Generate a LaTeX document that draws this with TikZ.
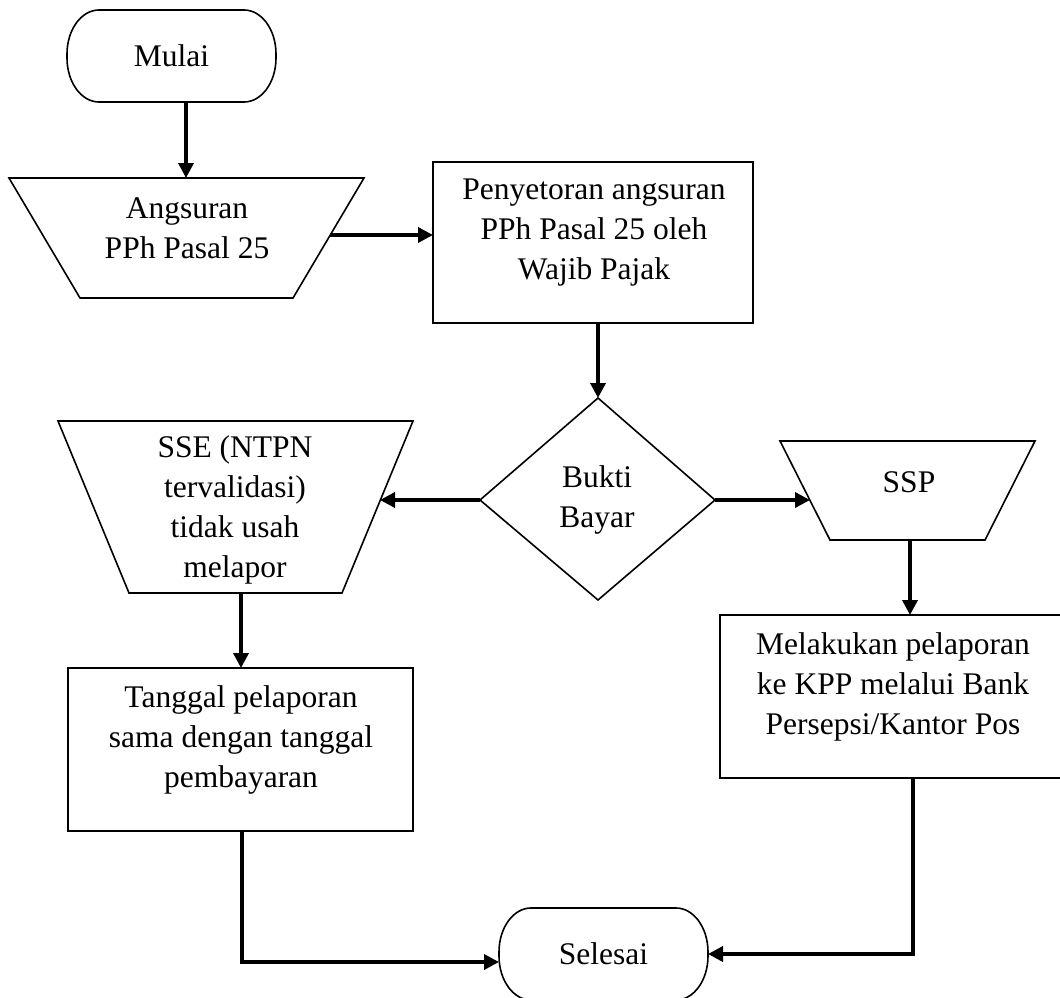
\documentclass[tikz,border=0pt]{standalone}
\usepackage{fontspec}
\setmainfont{Liberation Serif}
\usetikzlibrary{arrows.meta,calc}
\tikzset{
  shapeline/.style={line width=1.6pt, line join=miter},
  box/.style={draw, line width=1.6pt, inner sep=0pt, outer sep=0pt},
  termbox/.style={inner sep=0pt, outer sep=0pt, font=\fontsize{31.5}{40}\selectfont},
  lbl/.style={align=center, inner sep=0pt, font=\fontsize{31.5}{40}\selectfont},
  arr/.style={line width=3.5pt, line join=miter, -{Triangle[length=15pt,width=15pt]}}
}
\newcommand\termoutline[1]{%
  \draw[shapeline] ($(#1.north west)+(32,0)$) -- ($(#1.north east)+(-32,0)$)
   .. controls ($(#1.north east)+(-14.3,0)$) and ($(#1.north east)+(0,19.7)$) .. ($(#1.north east)+(0,44)$)
   -- ($(#1.south east)+(0,-44)$)
   .. controls ($(#1.south east)+(0,-19.7)$) and ($(#1.south east)+(-14.3,0)$) .. ($(#1.south east)+(-32,0)$)
   -- ($(#1.south west)+(32,0)$)
   .. controls ($(#1.south west)+(14.3,0)$) and ($(#1.south west)+(0,-19.7)$) .. ($(#1.south west)+(0,-44)$)
   -- ($(#1.north west)+(0,44)$)
   .. controls ($(#1.north west)+(0,19.7)$) and ($(#1.north west)+(14.3,0)$) .. cycle;}
\begin{document}
\begin{tikzpicture}[x=1pt,y=-1pt]
\useasboundingbox (0,0) rectangle (1060,998);
\fill[white] (0,0) rectangle (1060,998);

% Mulai
\node[termbox, minimum width=209pt, minimum height=92pt] (mulai) at (171.5,56) {Mulai};
\termoutline{mulai}

% Angsuran (manual input trapezoid)
\draw[shapeline] (9,178) -- (364,178) -- (293,298) -- (80,298) -- cycle;
\node[lbl] (angs) at (187,228) {Angsuran\\PPh Pasal 25};
\coordinate (angstop) at (186,178);
\coordinate (angsr) at (330,235);

% Penyetoran
\node[box, minimum width=320pt, minimum height=161pt] (setor) at (593,242.5) {};
\node[lbl] (setort) at (594,233) {Penyetoran angsuran\\PPh Pasal 25 oleh\\Wajib Pajak};

% Diamond
\coordinate (dtop) at (598,398);
\coordinate (dright) at (715,500);
\coordinate (dbot) at (598,600);
\coordinate (dleft) at (480,500);
\draw[shapeline] (dtop) -- (dright) -- (dbot) -- (dleft) -- cycle;
\node[lbl] (bukti) at (597,500) {Bukti\\Bayar};

% SSE trapezoid
\draw[shapeline] (58,421) -- (413,421) -- (342,593) -- (129,593) -- cycle;
\node[lbl] (sse) at (235,510) {SSE (NTPN\\tervalidasi)\\tidak usah\\melapor};
\coordinate (sser) at (380,500);
\coordinate (sseb) at (241,593);

% SSP trapezoid
\draw[shapeline] (780,441) -- (1035,441) -- (985,540) -- (830,540) -- cycle;
\node[lbl] (ssp) at (909,482) {SSP};
\coordinate (sspl) at (810,500);
\coordinate (sspb) at (910,540);

% Tanggal
\node[box, minimum width=345pt, minimum height=163pt] (tanggal) at (240.5,749.5) {};
\node[lbl] (tanggalt) at (241,740) {Tanggal pelaporan\\sama dengan tanggal\\pembayaran};

% Melakukan pelaporan (right edge runs past the page)
\node[box, minimum width=346pt, minimum height=163pt] (lapor) at (893,696.5) {};
\node[lbl] (laport) at (893,687) {Melakukan pelaporan\\ke KPP melalui Bank\\Persepsi/Kantor Pos};

% Selesai
\node[termbox, minimum width=209pt, minimum height=92pt] (selesai) at (603.5,954) {Selesai};
\termoutline{selesai}

% connectors
\draw[arr] (angstop |- mulai.south) -- (angstop);
\draw[arr] (angsr) -- (angsr -| setor.west);
\draw[arr] (dtop |- setor.south) -- (dtop);
\draw[arr] (dleft) -- (sser);
\draw[arr] (dright) -- (sspl);
\draw[arr] (sseb) -- (sseb |- tanggal.north);
\draw[arr] (sspb) -- (sspb |- lapor.north);
\coordinate (j1) at (242,962);
\coordinate (j2) at (913,954);
\draw[arr] (j1 |- tanggal.south) -- (j1) -- (j1 -| selesai.west);
\draw[arr] (j2 |- lapor.south) -- (j2) -- (j2 -| selesai.east);
\end{tikzpicture}
\end{document}
